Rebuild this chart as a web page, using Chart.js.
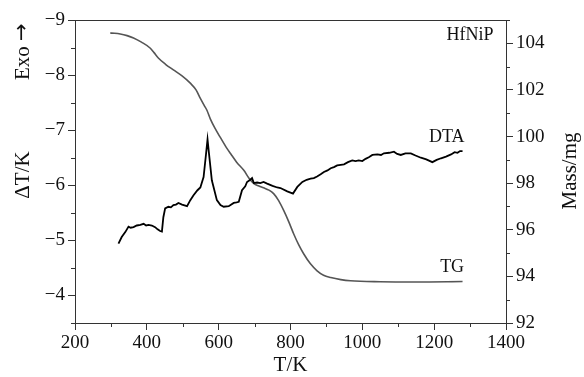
<!DOCTYPE html>
<html>
<head>
<meta charset="utf-8">
<script src="https://cdn.jsdelivr.net/npm/chart.js@4/dist/chart.umd.min.js"></script>
<style>
  html, body { margin: 0; padding: 0; background: #fff; }
  #wrap { width: 584px; height: 377px; position: relative; }
</style>
</head>
<body>
<div id="wrap"><canvas id="chart"></canvas></div>
<script>
// DTA curve (T/K, ΔT/K)
const dtaT = [321, 330, 340, 349, 355, 363, 372, 382, 391, 398, 405, 414, 423, 430, 437, 442, 446, 451, 460, 467,
  474, 481, 488, 498, 512, 521, 530, 541, 549, 558, 565, 569, 573, 581, 595, 605, 614, 628, 642, 650,
  656, 665, 674, 679, 688, 693, 698, 707, 716, 725, 735, 750, 763, 772, 791, 807, 819, 833, 845, 856,
  865, 874, 884, 893, 903, 912, 921, 930, 940, 949, 960, 972, 981, 990, 1000, 1009, 1018, 1028, 1042, 1052,
  1060, 1075, 1088, 1097, 1107, 1120, 1135, 1148, 1163, 1178, 1195, 1207, 1219, 1233, 1247, 1257, 1265, 1272, 1279];
const dtaValues = [-4.94, -5.06, -5.15, -5.25, -5.23, -5.24, -5.27, -5.28, -5.30, -5.27, -5.28, -5.27, -5.24, -5.20, -5.17, -5.16, -5.42, -5.58, -5.61, -5.60,
  -5.64, -5.65, -5.68, -5.65, -5.62, -5.73, -5.82, -5.91, -5.96, -6.15, -6.58, -6.83, -6.58, -6.09, -5.73, -5.64, -5.61, -5.62, -5.68, -5.69,
  -5.70, -5.91, -5.98, -6.06, -6.10, -6.13, -6.04, -6.05, -6.04, -6.06, -6.03, -5.99, -5.96, -5.95, -5.89, -5.85, -5.97, -6.06, -6.10, -6.12,
  -6.13, -6.16, -6.20, -6.24, -6.27, -6.31, -6.33, -6.36, -6.37, -6.38, -6.42, -6.45, -6.44, -6.45, -6.44, -6.48, -6.51, -6.55, -6.56, -6.55,
  -6.58, -6.59, -6.61, -6.57, -6.55, -6.58, -6.58, -6.54, -6.50, -6.47, -6.42, -6.46, -6.49, -6.52, -6.56, -6.60, -6.59, -6.62, -6.62];

// TG curve (T/K, Mass/mg)
const tgT = [298, 310, 326, 345, 363, 385, 409, 420, 432, 452, 474, 498, 521, 537, 549, 560, 567, 577, 590, 605,
  623, 633, 650, 670, 685, 698, 712, 725, 740, 753, 767, 781, 795, 809, 823, 837, 855, 874, 892, 912,
  940, 967, 1050, 1150, 1279];
const tgMass = [104.44, 104.43, 104.40, 104.33, 104.23, 104.05, 103.80, 103.60, 103.37, 103.10, 102.86, 102.60, 102.29, 102.00, 101.64, 101.33, 101.14, 100.75, 100.35, 99.95,
  99.49, 99.27, 98.90, 98.55, 98.20, 97.98, 97.88, 97.80, 97.70, 97.55, 97.25, 96.83, 96.35, 95.82, 95.35, 94.96, 94.55, 94.24, 94.05, 93.95,
  93.86, 93.81, 93.77, 93.76, 93.78];

// 刻度
const xTicks = [200, 400, 600, 800, 1000, 1200, 1400];
const xMinor = [300, 500, 700, 900, 1100, 1300];
const dtTicks = [-9, -8, -7, -6, -5, -4];
const dtMinor = [-8.5, -7.5, -6.5, -5.5, -4.5, -3.5];
const massTicks = [92, 94, 96, 98, 100, 102, 104];
const massMinor = [93, 95, 97, 99, 101, 103, 105];

const serif = '"Liberation Serif"';
const axisColor = '#333';
Chart.defaults.font.family = serif;

function toPoints(xs, ys) {
  return xs.map((x, i) => ({ x: x, y: ys[i] }));
}

function minus(v) {
  return String(v).replace('-', '\u2212');
}

// 次刻度、顶框和文字
const decorPlugin = {
  id: 'decor',
  afterDraw(chart) {
    const ctx = chart.ctx;
    const a = chart.chartArea;
    const sx = chart.scales.x, sl = chart.scales.y, sr = chart.scales.y1;
    ctx.save();
    ctx.strokeStyle = axisColor;
    ctx.lineWidth = 1;
    ctx.beginPath();
    ctx.moveTo(a.left, a.top + 0.5);
    ctx.lineTo(a.right, a.top + 0.5);
    xMinor.forEach(v => {
      const p = Math.round(sx.getPixelForValue(v)) + 0.5;
      ctx.moveTo(p, a.bottom); ctx.lineTo(p, a.bottom + 4);
    });
    dtMinor.forEach(v => {
      const p = Math.round(sl.getPixelForValue(v)) + 0.5;
      ctx.moveTo(a.left, p); ctx.lineTo(a.left - 4, p);
    });
    massMinor.forEach(v => {
      const p = Math.round(sr.getPixelForValue(v)) + 0.5;
      ctx.moveTo(a.right, p); ctx.lineTo(a.right + 4, p);
    });
    ctx.stroke();

    ctx.fillStyle = '#111';
    ctx.textAlign = 'center';
    ctx.textBaseline = 'middle';
    ctx.font = '18px ' + serif;
    ctx.fillText('HfNiP', sx.getPixelForValue(1300), sl.getPixelForValue(-8.72));
    ctx.fillText('DTA', sx.getPixelForValue(1235), sl.getPixelForValue(-6.87));
    ctx.fillText('TG', sx.getPixelForValue(1250), sr.getPixelForValue(94.4));

    ctx.font = '21px ' + serif;
    ctx.fillText('T/K', sx.getPixelForValue(800), 365);

    ctx.save();
    ctx.translate(23, 175);
    ctx.rotate(-Math.PI / 2);
    ctx.fillText('\u0394T/K', 0, 0);
    ctx.restore();

    // Exo → 分两段画，箭头用 DejaVu Sans
    ctx.save();
    ctx.translate(23, 80);
    ctx.rotate(-Math.PI / 2);
    ctx.textAlign = 'left';
    ctx.font = '21px ' + serif;
    ctx.fillText('Exo ', 0, 0);
    const w = ctx.measureText('Exo ').width;
    ctx.font = '21px "DejaVu Sans"';
    ctx.fillText('\u2192', w, 0);
    ctx.restore();

    ctx.save();
    ctx.translate(570, 171);
    ctx.rotate(-Math.PI / 2);
    ctx.font = '21px ' + serif;
    ctx.fillText('Mass/mg', 0, 0);
    ctx.restore();

    ctx.restore();
  }
};

const tickFont = { family: serif, size: 19 };

new Chart(document.getElementById('chart'), {
  type: 'line',
  data: {
    datasets: [{
      label: 'DTA',
      data: toPoints(dtaT, dtaValues),
      yAxisID: 'y',
      borderColor: '#000',
      borderWidth: 1.8,
      pointRadius: 0,
      tension: 0
    }, {
      label: 'TG',
      data: toPoints(tgT, tgMass),
      yAxisID: 'y1',
      borderColor: '#555',
      borderWidth: 1.6,
      pointRadius: 0,
      cubicInterpolationMode: 'monotone'
    }]
  },
  options: {
    responsive: true,
    maintainAspectRatio: false,
    animation: false,
    layout: { padding: { top: 20 } },
    plugins: { legend: { display: false }, tooltip: { enabled: false } },
    scales: {
      x: {
        type: 'linear',
        min: 200,
        max: 1400,
        afterBuildTicks: s => { s.ticks = xTicks.map(v => ({ value: v })); },
        afterFit: s => { s.height = 54; },
        border: { color: axisColor },
        grid: { drawOnChartArea: false, tickLength: 7, color: axisColor },
        ticks: { font: tickFont, color: '#111', padding: 2, maxRotation: 0, callback: v => String(v) }
      },
      y: {
        position: 'left',
        reverse: true,
        min: -9,
        max: -3.5,
        afterBuildTicks: s => { s.ticks = dtTicks.map(v => ({ value: v })); },
        afterFit: s => { s.width = 75; },
        border: { color: axisColor },
        grid: { drawOnChartArea: false, tickLength: 7, color: axisColor },
        ticks: { font: tickFont, color: '#111', padding: 3, callback: v => minus(v) }
      },
      y1: {
        position: 'right',
        min: 92,
        max: 105,
        afterBuildTicks: s => { s.ticks = massTicks.map(v => ({ value: v })); },
        afterFit: s => { s.width = 78; },
        border: { color: axisColor },
        grid: { drawOnChartArea: false, tickLength: 7, color: axisColor },
        ticks: { font: tickFont, color: '#111', padding: 3 }
      }
    }
  },
  plugins: [decorPlugin]
});
</script>
</body>
</html>
